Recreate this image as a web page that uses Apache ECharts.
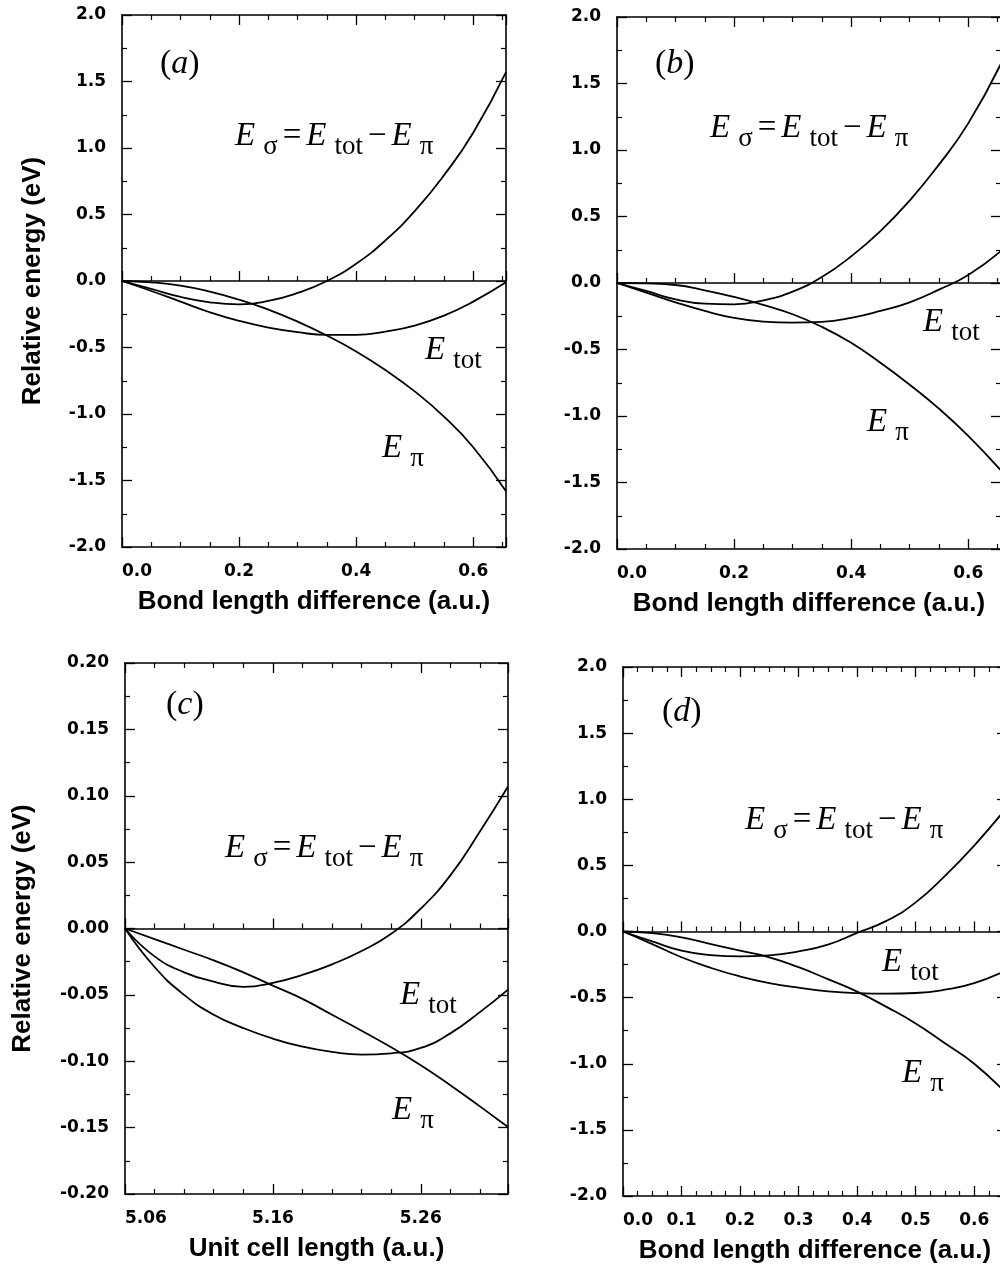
<!DOCTYPE html>
<html>
<head>
<meta charset="utf-8">
<script src="https://cdn.jsdelivr.net/npm/echarts@6/dist/echarts.min.js"></script>
<style>
html, body { margin: 0; padding: 0; background: #fff; }
#main { width: 1000px; height: 1266px; }
</style>
</head>
<body>
<div id="main"></div>
<script>
// panel (a): bond length difference
var bondXA = [0, 0.05, 0.1, 0.15, 0.2, 0.25, 0.3, 0.35, 0.4, 0.45, 0.5, 0.55, 0.6, 0.656];
var aTot = [0, -0.075, -0.155, -0.235, -0.30, -0.35, -0.385, -0.405, -0.405, -0.38, -0.335, -0.26, -0.155, -0.01];
var aPi = [0, -0.01, -0.035, -0.08, -0.14, -0.215, -0.305, -0.41, -0.53, -0.67, -0.83, -1.02, -1.25, -1.58];
var aSigma = [0, -0.06, -0.12, -0.16, -0.175, -0.15, -0.09, 0.0, 0.13, 0.305, 0.525, 0.795, 1.115, 1.57];

// panel (b)
var bondXB = [0, 0.05, 0.1, 0.15, 0.2, 0.25, 0.3, 0.35, 0.4, 0.45, 0.5, 0.55, 0.6, 0.656];
var bTot = [0, -0.072, -0.145, -0.21, -0.262, -0.29, -0.298, -0.292, -0.262, -0.21, -0.145, -0.05, 0.06, 0.24];
var bPi = [0, -0.003, -0.015, -0.055, -0.105, -0.165, -0.235, -0.33, -0.45, -0.6, -0.765, -0.945, -1.15, -1.41];
var bSigma = [0, -0.06, -0.123, -0.155, -0.16, -0.13, -0.065, 0.045, 0.2, 0.39, 0.62, 0.89, 1.2, 1.65];

// panel (c): unit cell length
var cellX = [5.06, 5.08, 5.10, 5.12, 5.14, 5.16, 5.18, 5.20, 5.22, 5.24, 5.26, 5.28, 5.30, 5.319];
var cTot = [0, -0.029, -0.050, -0.065, -0.075, -0.083, -0.089, -0.093, -0.095, -0.094, -0.090, -0.079, -0.063, -0.046];
var cPi = [0, -0.008, -0.016, -0.024, -0.033, -0.043, -0.053, -0.065, -0.077, -0.0895, -0.103, -0.118, -0.134, -0.1495];
var cSigma = [0, -0.021, -0.033, -0.040, -0.044, -0.041, -0.035, -0.027, -0.017, -0.004, 0.015, 0.040, 0.073, 0.107];

// panel (d)
var bondXD = [0, 0.05, 0.1, 0.15, 0.2, 0.25, 0.3, 0.35, 0.4, 0.45, 0.5, 0.55, 0.6, 0.656];
var dTot = [0, -0.095, -0.195, -0.275, -0.34, -0.39, -0.425, -0.452, -0.466, -0.47, -0.465, -0.44, -0.39, -0.29];
var dPi = [0, -0.012, -0.045, -0.095, -0.145, -0.195, -0.27, -0.36, -0.455, -0.57, -0.695, -0.845, -1.0, -1.23];
var dSigma = [0, -0.075, -0.145, -0.178, -0.188, -0.18, -0.15, -0.1, -0.01, 0.08, 0.22, 0.42, 0.65, 0.94];

var xTitleBond = 'Bond length difference (a.u.)';
var xTitleCell = 'Unit cell length (a.u.)';
var yTitle = 'Relative energy (eV)';
var panelTags = ['a', 'b', 'c', 'd'];

var chart = echarts.init(document.getElementById('main'), null, {renderer: 'canvas'});

var black = '#000';
var tickFont = {fontFamily: 'DejaVu Sans', fontWeight: 'bold', fontSize: 17, color: black};
var nameFont = {fontFamily: 'Liberation Sans', fontWeight: 'bold', fontSize: 26, color: black};

function pairs(xs, ys) {
    return xs.map(function (x, i) { return [x, ys[i]]; });
}

var grids = [], xAxes = [], yAxes = [], series = [], graphics = [];

function addPanel(g, box, xs, curves, xr, yr, xName, yName, yGap) {
    grids.push({left: box[0], top: box[1], width: box[2], height: box[3], containLabel: false, outerBoundsMode: 'none'});

    var common = {
        gridIndex: g, type: 'value', min: xr.min, max: xr.max, interval: xr.step,
        splitLine: {show: false},
        axisLine: {show: true, onZero: false, lineStyle: {color: black, width: 1.6}},
        axisTick: {show: true, inside: true, length: 10, lineStyle: {color: black, width: 1.3}},
        minorTick: {show: true, splitNumber: xr.minor, length: 5, lineStyle: {color: black, width: 1.2}},
        axisLabel: {show: false}
    };
    // bottom axis with labels
    xAxes.push(Object.assign({}, common, {
        position: 'bottom',
        axisLabel: Object.assign({show: true, margin: 16, showMaxLabel: false, alignMinLabel: 'left',
            formatter: function (v) { return v.toFixed(xr.dec); }}, tickFont),
        name: xName, nameLocation: 'middle', nameGap: 42, nameTextStyle: nameFont, nameMoveOverlap: false
    }));
    // top mirror
    xAxes.push(Object.assign({}, common, {position: 'top'}));
    // zero line with ticks
    xAxes.push(Object.assign({}, common, {
        position: 'bottom',
        axisLine: {show: true, onZero: true, lineStyle: {color: black, width: 1.5}}
    }));

    var yCommon = {
        gridIndex: g, type: 'value', min: yr.min, max: yr.max, interval: yr.step,
        splitLine: {show: false},
        axisLine: {show: true, onZero: false, lineStyle: {color: black, width: 1.6}},
        axisTick: {show: true, inside: true, length: 10, lineStyle: {color: black, width: 1.3}},
        minorTick: {show: true, splitNumber: 2, length: 5, lineStyle: {color: black, width: 1.2}},
        axisLabel: {show: false}
    };
    var left = Object.assign({}, yCommon, {
        position: 'left',
        axisLabel: Object.assign({show: true, margin: 16,
            formatter: function (v) { return v.toFixed(yr.dec); }}, tickFont)
    });
    if (yName) {
        Object.assign(left, {name: yName, nameLocation: 'middle', nameGap: yGap, nameTextStyle: nameFont, nameMoveOverlap: false});
    }
    yAxes.push(left);
    yAxes.push(Object.assign({}, yCommon, {position: 'right'}));

    curves.forEach(function (ys) {
        series.push({
            type: 'line', xAxisIndex: 3 * g, yAxisIndex: 2 * g,
            data: pairs(xs, ys), smooth: 0.5,
            showSymbol: false, symbol: 'none', silent: true,
            lineStyle: {color: black, width: 1.8}
        });
    });
}

addPanel(0, [122, 15, 384, 532], bondXA, [aTot, aPi, aSigma],
    {min: 0, max: 0.656, step: 0.2, minor: 4, dec: 1}, {min: -2, max: 2, step: 0.5, dec: 1},
    xTitleBond, yTitle, 76);
addPanel(1, [617, 17, 384, 532], bondXB, [bTot, bPi, bSigma],
    {min: 0, max: 0.656, step: 0.2, minor: 4, dec: 1}, {min: -2, max: 2, step: 0.5, dec: 1},
    xTitleBond, null, 0);
addPanel(2, [125, 663, 383, 531], cellX, [cTot, cPi, cSigma],
    {min: 5.06, max: 5.319, step: 0.1, minor: 5, dec: 2}, {min: -0.2, max: 0.2, step: 0.05, dec: 2},
    xTitleCell, yTitle, 89);
addPanel(3, [623, 667, 384, 529], bondXD, [dTot, dPi, dSigma],
    {min: 0, max: 0.656, step: 0.1, minor: 4, dec: 1}, {min: -2, max: 2, step: 0.5, dec: 1},
    xTitleBond, null, 0);

// math labels
var serif = 'Liberation Serif';
var mathRich = {
    e: {fontFamily: serif, fontStyle: 'italic', fontSize: 33},
    s: {fontFamily: serif, fontSize: 27, padding: [22, 0, 0, 8]},
    o: {fontFamily: serif, fontSize: 33, padding: [0, 5, 0, 5]},
    p: {fontFamily: serif, fontSize: 34},
    i: {fontFamily: serif, fontStyle: 'italic', fontSize: 34}
};
function mathText(x, baseline, text) {
    graphics.push({
        type: 'text', x: x, y: baseline - 10, z: 10, silent: true,
        style: {text: text, rich: mathRich, fill: black, align: 'left', verticalAlign: 'middle'}
    });
}
var formula = '{e|E}{s|σ}{o|=}{e|E}{s|tot}{o|−}{e|E}{s|π}';
var eTot = '{e|E}{s|tot}';
var ePi = '{e|E}{s|π}';

// (left x, baseline y) for each label
mathText(235, 146, formula); mathText(425, 360, eTot); mathText(382, 458, ePi);
mathText(710, 138, formula); mathText(923, 332, eTot); mathText(867, 432, ePi);
mathText(225, 858, formula); mathText(400, 1005, eTot); mathText(392, 1120, ePi);
mathText(745, 830, formula); mathText(882, 972, eTot); mathText(902, 1083, ePi);

var tagPos = [[160, 64], [655, 64], [166, 705], [662, 712]];
panelTags.forEach(function (t, i) {
    graphics.push({
        type: 'text', x: tagPos[i][0], y: tagPos[i][1], z: 10, silent: true,
        style: {text: '{p|(}{i|' + t + '}{p|)}', rich: mathRich, fill: black, align: 'left', verticalAlign: 'middle'}
    });
});

chart.setOption({
    animation: false,
    backgroundColor: '#fff',
    grid: grids,
    xAxis: xAxes,
    yAxis: yAxes,
    series: series,
    graphic: graphics
});
</script>
</body>
</html>
